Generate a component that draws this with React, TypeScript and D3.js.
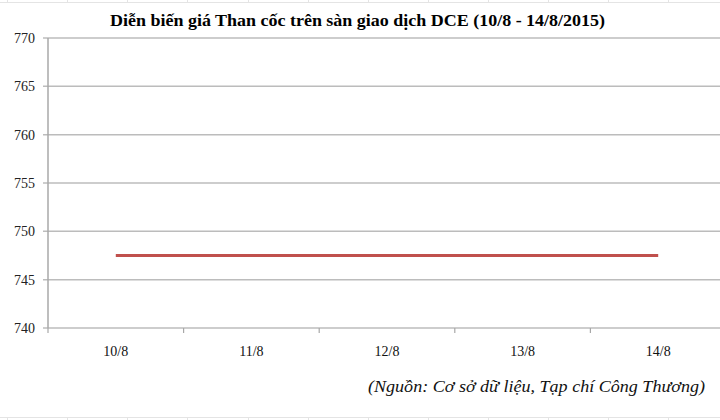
import React from "react";
import * as d3 from "d3";

const categories = ["10/8", "11/8", "12/8", "13/8", "14/8"];
const prices = [747.5, 747.5, 747.5, 747.5, 747.5];
const yTicks = [740, 745, 750, 755, 760, 765, 770];
const title = "Diễn biến giá Than cốc trên sàn giao dịch DCE (10/8 - 14/8/2015)";
const source = "(Nguồn: Cơ sở dữ liệu, Tạp chí Công Thương)";
const cellLinesX = [7, 67, 127, 187, 248, 308, 368, 428, 488, 548, 608, 668];

const W = 720;
const H = 420;
const left = 48;
const right = 726;
const top = 38;
const bottom = 328;

export default function App() {
  const x = d3.scaleBand<string>().domain(categories).range([left, right]);
  const y = d3.scaleLinear().domain([740, 770]).range([bottom, top]);
  const line = d3
    .line<number>()
    .x((_, i) => (x(categories[i]) as number) + x.bandwidth() / 2)
    .y((d) => y(d));
  const font = "'Liberation Serif', 'Times New Roman', serif";
  const boundaries = categories.map((c) => x(c) as number).concat([right]);
  return (
    <div style={{ position: "absolute", left: 0, top: 0 }}>
      <svg width={W} height={H} style={{ display: "block", background: "#fff" }}>
        {/* faint spreadsheet cell borders */}
        <line x1={0} x2={W} y1={2.5} y2={2.5} stroke="#e4e4e4" />
        {cellLinesX.map((cx) => (
          <line key={"t" + cx} x1={cx + 0.5} x2={cx + 0.5} y1={0} y2={2.5} stroke="#e4e4e4" />
        ))}
        <line x1={0} x2={W} y1={417.5} y2={417.5} stroke="#e4e4e4" />
        {cellLinesX.map((cx) => (
          <line key={"b" + cx} x1={cx + 0.5} x2={cx + 0.5} y1={417.5} y2={H} stroke="#e4e4e4" />
        ))}
        <text
          x={110}
          y={26}
          textLength={495}
          lengthAdjust="spacingAndGlyphs"
          fontFamily={font}
          fontWeight="bold"
          fontSize={17}
          fill="#000"
        >
          {title}
        </text>
        {yTicks.map((t) => (
          <g key={t}>
            <line x1={43} x2={right} y1={y(t)} y2={y(t)} stroke="#bcbcbc" strokeWidth={1.5} />
            <text
              x={35}
              y={y(t) + 5}
              textAnchor="end"
              fontFamily={font}
              fontSize={14}
              fill="#222"
            >
              {t}
            </text>
          </g>
        ))}
        <line x1={left} x2={left} y1={top} y2={bottom} stroke="#a8a8a8" strokeWidth={1.5} />
        {boundaries.map((b) => (
          <line key={"k" + b} x1={b} x2={b} y1={bottom} y2={bottom + 5} stroke="#a8a8a8" strokeWidth={1.2} />
        ))}
        {categories.map((c) => (
          <text
            key={c}
            x={(x(c) as number) + x.bandwidth() / 2}
            y={356}
            textAnchor="middle"
            fontFamily={font}
            fontSize={14}
            fill="#111"
          >
            {c}
          </text>
        ))}
        <path d={line(prices) || ""} fill="none" stroke="#c0504d" strokeWidth={3} />
        <text
          x={368}
          y={392}
          textLength={337}
          lengthAdjust="spacingAndGlyphs"
          fontFamily={font}
          fontStyle="italic"
          fontSize={17}
          fill="#111"
        >
          {source}
        </text>
      </svg>
    </div>
  );
}
